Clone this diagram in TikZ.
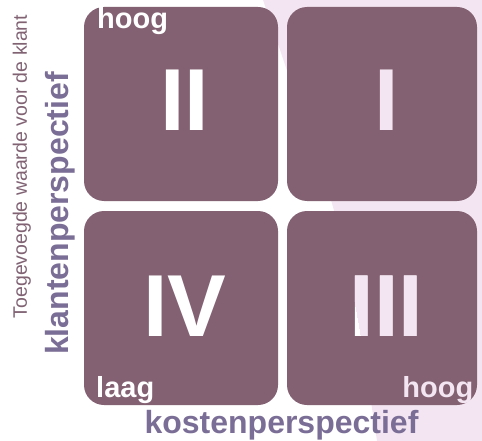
\documentclass[tikz,border=0pt]{standalone}
\usepackage{fontspec}
\setmainfont{Liberation Sans}
\definecolor{boxcol}{HTML}{836172}
\definecolor{pinkbg}{HTML}{F3E6F2}
\definecolor{axiscol}{HTML}{7B6E96}
\definecolor{subcol}{HTML}{806273}
\tikzset{
  quad/.style={rounded corners=20pt, fill=boxcol, draw=none, inner sep=0pt, outer sep=0pt},
  numeral/.style={font=\bfseries\fontsize{88}{88}\selectfont, anchor=base, inner sep=0pt},
  cornerlab/.style={font=\bfseries\fontsize{29}{29}\selectfont, inner sep=0pt, text=white},
  axislab/.style={font=\bfseries\fontsize{32}{32}\selectfont, text=axiscol, inner sep=0pt, anchor=base},
  sublab/.style={font=\fontsize{19.5}{19.5}\selectfont, text=subcol, inner sep=0pt, anchor=base},
}
\begin{document}
\begin{tikzpicture}[x=1pt,y=-1pt]
\useasboundingbox (0,0) rectangle (482,441);
% light background region
\fill[pinkbg] plot[smooth] coordinates {(263,0) (297,100) (333,207) (354,300) (366,370) (377,441)}
  -- (482,441) -- (482,0) -- cycle;
% quadrants
\node[quad, minimum width=194pt, minimum height=194pt] (q2) at (181,104) {};
\node[quad, minimum width=190pt, minimum height=194pt] (q1) at (382,104) {};
\node[quad, minimum width=194pt, minimum height=194pt] (q4) at (181,308) {};
\node[quad, minimum width=190pt, minimum height=194pt] (q3) at (382,308) {};
% numerals
\node[numeral, text=white] (nII) at (184.5,131) {II};
\node[numeral, text=pinkbg] (nI) at (387,131) {I};
\node[numeral, text=white] (nIV) at (185,336) {IV};
\node[numeral, text=white] (nIII) at (386.5,336) {III};
\begin{scope}
  \clip plot[smooth] coordinates {(263,0) (297,100) (333,207) (354,300) (366,370) (377,441)}
    -- (482,441) -- (482,0) -- cycle;
  \node[numeral, text=pinkbg] (nIIIb) at (386.5,336) {III};
\end{scope}
% corner labels
\node[cornerlab, anchor=base west] (hoogL) at (97,29) {hoog};
\node[cornerlab, anchor=base west] (laag) at (96,397) {laag};
\node[cornerlab, anchor=base east, text=pinkbg] (hoogR) at (473.5,397) {hoog};
% axis labels
\node[axislab] (kosten) at (281.5,433) {kostenperspectief};
\node[axislab, rotate=90] (klanten) at (68,213.5) {klantenperspectief};
\node[sublab, rotate=90] (waarde) at (27,166.5) {Toegevoegde waarde voor de klant};
\end{tikzpicture}
\end{document}
